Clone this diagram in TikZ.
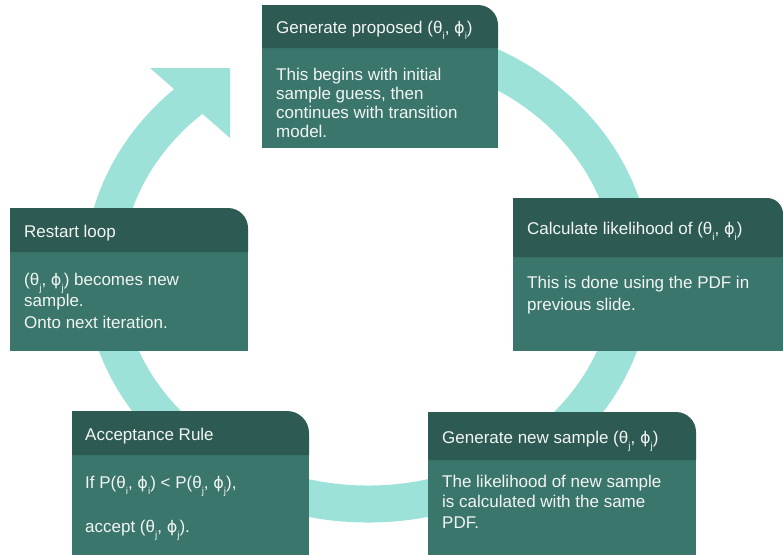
\documentclass[tikz,border=0pt]{standalone}
\usepackage{fontspec}
\setmainfont{Liberation Sans}
\newfontfamily\phifont{DejaVu Sans}
\definecolor{hdrc}{HTML}{2D5A52}
\definecolor{bodyc}{HTML}{3A766B}
\definecolor{ringc}{HTML}{9CE2D9}
\definecolor{txtc}{HTML}{F2F5F4}
\newcommand\lowsub[1]{\raisebox{-6pt}{\fontsize{10}{10}\selectfont #1}}
\newcommand\ph{{\phifont\fontsize{16}{16}\selectfont ϕ}}
\newcommand\tealbox[6]{%
  \fill[bodyc] (#1,#4) rectangle (#3,#5);
  \fill[hdrc] (#1,#4) -- (#1,#2) -- ({#3-#6},#2)
    arc[start angle=-90,end angle=0,radius=#6] -- (#3,#4) -- cycle;}
\begin{document}
\begin{tikzpicture}[x=1pt,y=-1pt,
  ringline/.style={draw=ringc,line width=37pt},
  ttl/.style={anchor=base west,inner sep=0pt,text=txtc,font=\fontsize{17}{20}\selectfont},
  txt/.style={anchor=north west,inner sep=0pt,text=txtc,align=left}]
\useasboundingbox (0,0) rectangle (783,554);
% ring with arrow
\draw[ringline] (414.0,43.5) arc[start angle=-80,end angle=229,x radius=265,y radius=232];
\fill[ringc] (150,68) -- (230,68) -- (230,138) -- cycle;
% boxes
\tealbox{262}{5}{498}{48}{148}{20}
\tealbox{513}{198}{783}{257}{351}{16}
\tealbox{10}{208}{248}{252}{351}{20}
\tealbox{72}{411}{309}{455}{560}{22}
\tealbox{428}{412}{696}{460}{560}{20}
% texts
\node[ttl] (t1) at (276,33) {Generate proposed (θ\lowsub{i}, \ph\lowsub{i})};
\node[txt,font=\fontsize{17}{19.2}\selectfont] (b1) at (276,67.5)
  {This begins with initial\\sample guess, then\\continues with transition\\model.};
\node[ttl] (t2) at (527,234) {Calculate likelihood of (θ\lowsub{i}, \ph\lowsub{i})};
\node[txt,font=\fontsize{17}{22}\selectfont] (b2) at (527,275.5)
  {This is done using the PDF in\\previous slide.};
\node[ttl] (t3) at (24,237) {Restart loop};
\node[txt,font=\fontsize{17}{21.5}\selectfont] (b3) at (24,272.5)
  {(θ\lowsub{j}, \ph\lowsub{j}) becomes new\\sample.\\Onto next iteration.};
\node[ttl] (t4) at (85,440) {Acceptance Rule};
\node[txt,font=\fontsize{17}{44}\selectfont] (b4) at (85,475.5)
  {If P(θ\lowsub{i}, \ph\lowsub{i}) < P(θ\lowsub{j}, \ph\lowsub{j}),\\accept (θ\lowsub{j}, \ph\lowsub{j}).};
\node[ttl] (t5) at (442,443) {Generate new sample (θ\lowsub{j}, \ph\lowsub{j})};
\node[txt,font=\fontsize{17}{20.5}\selectfont] (b5) at (442,474.5)
  {The likelihood of new sample\\is calculated with the same\\PDF.};
\end{tikzpicture}
\end{document}
